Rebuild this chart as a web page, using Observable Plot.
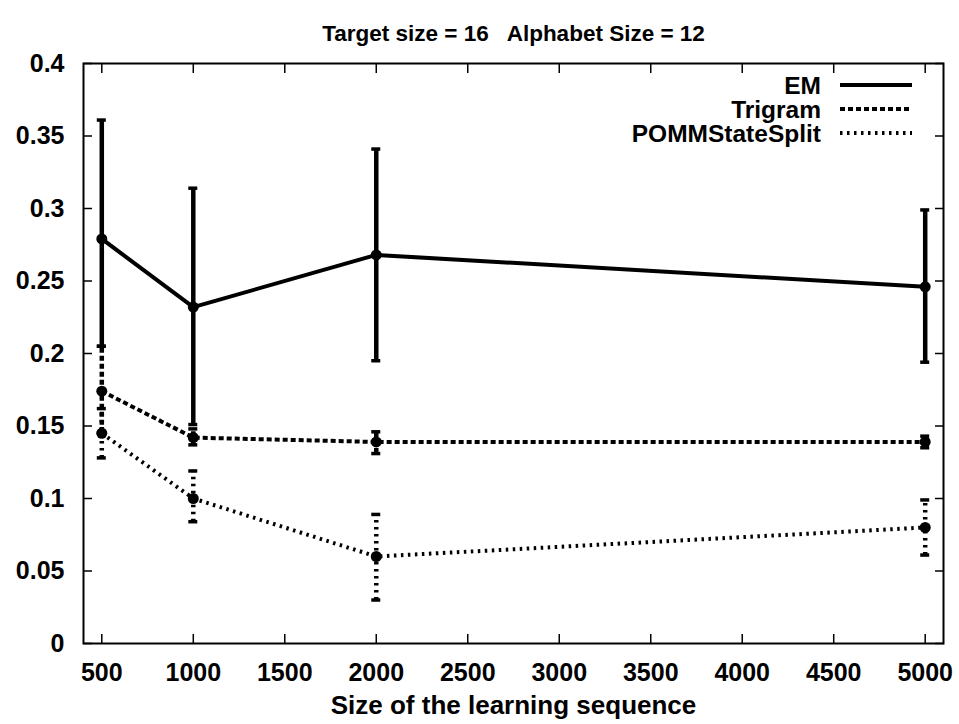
<!DOCTYPE html>
<html><head><meta charset="utf-8">
<script src="https://cdn.jsdelivr.net/npm/d3@7"></script>
<script src="https://cdn.jsdelivr.net/npm/@observablehq/plot@0.6"></script>
<style>
body{margin:0;background:#fff;}
#chart svg{display:block;}
</style>
</head><body><div id="chart"></div>
<script>
// ---- data ----
const sizes = [500, 1000, 2000, 5000];
const emMean = [0.279, 0.232, 0.268, 0.246];
const emLow = [0.205, 0.151, 0.195, 0.194];
const emHigh = [0.361, 0.314, 0.341, 0.299];
const triMean = [0.174, 0.142, 0.139, 0.139];
const triLow = [0.145, 0.137, 0.131, 0.135];
const triHigh = [0.205, 0.148, 0.146, 0.143];
const pommMean = [0.145, 0.100, 0.060, 0.080];
const pommLow = [0.128, 0.084, 0.030, 0.061];
const pommHigh = [0.162, 0.119, 0.089, 0.099];
const seriesNames = ["EM", "Trigram", "POMMStateSplit"];
const xTicks = [500, 1000, 1500, 2000, 2500, 3000, 3500, 4000, 4500, 5000];
const yTicks = [0, 0.05, 0.1, 0.15, 0.2, 0.25, 0.3, 0.35, 0.4];
const titleText = "Target size = 16   Alphabet Size = 12";
const xLabelText = "Size of the learning sequence";

// ---- styles ----
const FONT = "'Liberation Sans', Arial, Helvetica, sans-serif";
const styles = {
  "EM": {dash: null, width: 4},
  "Trigram": {dash: "5,3", width: 4},
  "POMMStateSplit": {dash: "2.5,4.5", width: 4}
};
const W = 959, H = 724, ML = 83, MR = 16, MT = 63, MB = 81;
const xDomain = [400, 5100];
const pxPerUnit = (W - ML - MR) / (xDomain[1] - xDomain[0]);
const capHalf = 4.5 / pxPerUnit;

const means = [emMean, triMean, pommMean];
const lows = [emLow, triLow, pommLow];
const highs = [emHigh, triHigh, pommHigh];
const table = [];
seriesNames.forEach((s, i) => sizes.forEach((x, j) => table.push({
  series: s, x, y: means[i][j], lo: lows[i][j], hi: highs[i][j]
})));

const marks = [];
for (const s of seriesNames) {
  const d = table.filter(r => r.series === s);
  const st = styles[s];
  marks.push(Plot.ruleX(d, {x: "x", y1: "lo", y2: "hi", stroke: "black", strokeWidth: st.width + 0.5, strokeDasharray: st.dash}));
  marks.push(Plot.ruleY(d, {y: "lo", x1: r => r.x - capHalf, x2: r => r.x + capHalf, stroke: "black", strokeWidth: 3.5}));
  marks.push(Plot.ruleY(d, {y: "hi", x1: r => r.x - capHalf, x2: r => r.x + capHalf, stroke: "black", strokeWidth: 3.5}));
  marks.push(Plot.line(d, {x: "x", y: "y", stroke: "black", strokeWidth: st.width, strokeDasharray: st.dash, strokeLinecap: "butt", strokeLinejoin: "miter"}));
  marks.push(Plot.dot(d, {x: "x", y: "y", r: 5.5, fill: "black", stroke: "none"}));
}

const chart = Plot.plot({
  width: W, height: H,
  marginLeft: ML, marginRight: MR, marginTop: MT, marginBottom: MB,
  style: {fontFamily: FONT, color: "black", background: "white", overflow: "visible"},
  x: {domain: xDomain},
  y: {domain: [0, 0.4]},
  marks: [
    // inward mirrored ticks
    Plot.axisX(xTicks, {anchor: "bottom", tickSize: 9, dy: -9, text: null, strokeWidth: 1.5, label: null}),
    Plot.axisX(xTicks, {anchor: "top", tickSize: 9, dy: 9, text: null, strokeWidth: 1.5, label: null}),
    Plot.axisY(yTicks, {anchor: "left", tickSize: 9, dx: 9, text: null, strokeWidth: 1.5, label: null}),
    Plot.axisY(yTicks, {anchor: "right", tickSize: 9, dx: -9, text: null, strokeWidth: 1.5, label: null}),
    // tick labels
    Plot.axisX(xTicks, {anchor: "bottom", tickSize: 0, tickPadding: 20, fontSize: 25, fontWeight: "bold", label: null, tickFormat: d => String(d)}),
    Plot.axisY(yTicks, {anchor: "left", tickSize: 0, tickPadding: 19, fontSize: 25, fontWeight: "bold", label: null, tickFormat: d => String(d)}),
    ...marks,
    Plot.frame({stroke: "black", strokeWidth: 2}),
    Plot.text([titleText], {frameAnchor: "top", dy: -38, fontSize: 22.5, fontWeight: "bold", fill: "black"}),
    Plot.text([xLabelText], {frameAnchor: "bottom", dy: 70, fontSize: 26, fontWeight: "bold", fill: "black"})
  ]
});

// legend (inside top-right corner)
const svg = d3.select(chart);
const lg = svg.append("g").attr("font-family", FONT).attr("font-weight", "bold").attr("font-size", 24.5);
seriesNames.forEach((s, i) => {
  const yy = 85 + i * 24;
  lg.append("text").attr("x", 821).attr("y", yy).attr("dy", "0.35em").attr("text-anchor", "end").attr("fill", "black").text(s);
  lg.append("line").attr("x1", 840).attr("x2", 912).attr("y1", yy).attr("y2", yy)
    .attr("stroke", "black").attr("stroke-width", styles[s].width)
    .attr("stroke-dasharray", styles[s].dash);
});

document.getElementById("chart").appendChild(chart);
</script>
</body></html>
